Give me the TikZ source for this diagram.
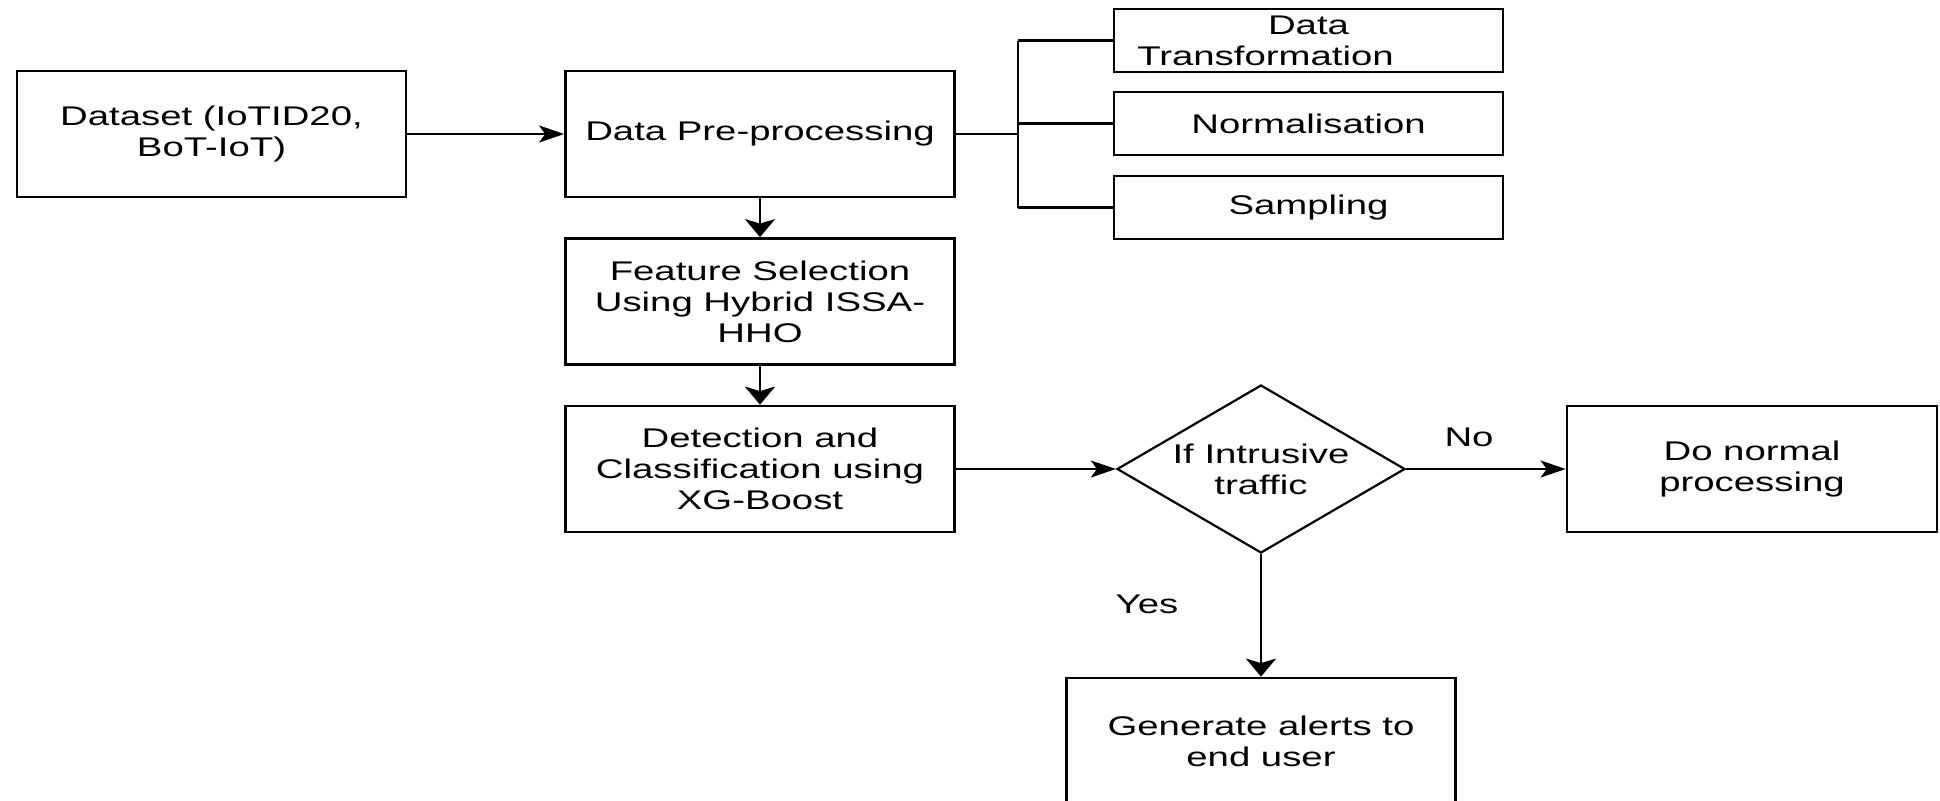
\documentclass[tikz,border=0pt]{standalone}
\usepackage{fontspec}
\setmainfont[FakeStretch=1.42]{Liberation Sans}
\usetikzlibrary{arrows.meta,shapes.geometric}
\begin{document}
\begin{tikzpicture}[x=0.5pt,y=-0.5pt,
  every node/.style={font=\fontsize{13.5}{15.5}\selectfont, align=center, inner sep=0pt},
  box/.style={draw, line width=1.35pt, minimum width=194.5pt, minimum height=63pt},
  subbox/.style={draw, line width=1.35pt, minimum width=194.5pt, minimum height=31.5pt},
  decision/.style={draw, diamond, aspect=1.714, line width=1.1pt, minimum width=144pt, minimum height=84pt},
  hlink/.style={line width=1.05pt},
  vlink/.style={line width=1.4pt},
  harrow/.style={hlink, -{Stealth[length=12.5pt,width=8.5pt,inset=3pt]}},
  varrow/.style={vlink, -{Stealth[length=9pt,width=15pt,inset=2.2pt]}},
]
\useasboundingbox (0,0) rectangle (1940,800);

% main pipeline
\node[box] (ds)  at (211.5,134) {Dataset (IoTID20,\\BoT-IoT)};
\node[box] (pre) at (760,134)   {Data Pre-processing};
\node[box] (fs)  at (760,301.5) {Feature Selection\\Using Hybrid ISSA-\\HHO};
\node[box] (det) at (760,469)   {Detection and\\Classification using\\XG-Boost};

% pre-processing steps
\node[subbox] (dt)   at (1308.5,40.5)  {Data\\Transformation\hspace*{43pt}};
\node[subbox] (norm) at (1308.5,123.5) {Normalisation};
\node[subbox] (samp) at (1308.5,207.5) {Sampling};

% decision and outcomes
\node[decision] (dec) at (1261,469) {If Intrusive\\traffic};
\node[box, minimum width=185pt] (dn) at (1752,469) {Do normal\\processing};
\node[box] (gen) at (1261,741) {Generate alerts to\\end user};

\node (no)  at (1469,437) {No};
\node (yes) at (1147,604) {Yes};

% connectors
\draw[harrow] (ds) -- (pre);
\draw[varrow] (pre) -- (fs);
\draw[varrow] (fs) -- (det);
\draw[harrow] (det) -- (dec);
\draw[harrow] (dec) -- (dn);
\draw[varrow] (dec.south) -- (dec.south |- gen.north);

\coordinate (bus) at (1018,134);
\draw[hlink] (pre.east) -- (bus);
\draw[hlink] (dt.west) -- (dt.west -| bus);
\draw[hlink] (norm.west) -- (norm.west -| bus);
\draw[hlink] (samp.west) -- (samp.west -| bus);
\draw[vlink] (dt.west -| bus) -- (samp.west -| bus);
\end{tikzpicture}
\end{document}
